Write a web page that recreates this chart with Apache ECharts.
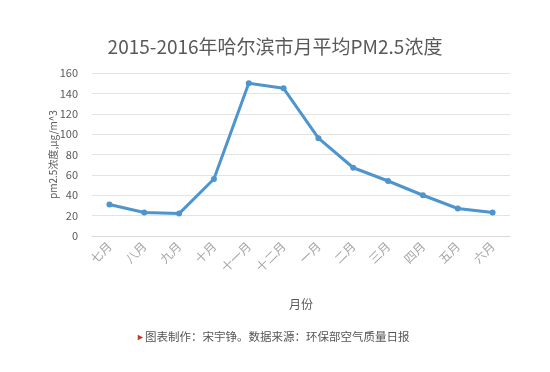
<!DOCTYPE html>
<html><head><meta charset="utf-8">
<script src="https://cdn.jsdelivr.net/npm/echarts@6/dist/echarts.min.js"></script>
<style>html,body{margin:0;padding:0;background:#fff;}#c{width:550px;height:372px;}</style>
</head><body><div id="c"></div>
<script>
var months = ['七月','八月','九月','十月','十一月','十二月','一月','二月','三月','四月','五月','六月'];
var pm25 = [31, 23, 22, 56, 150, 145, 96, 67, 54, 40, 27, 23];
var yTicks = [0, 20, 40, 60, 80, 100, 120, 140, 160];
var titleText = '2015-2016年哈尔滨市月平均PM2.5浓度';
var yName = 'pm2.5浓度,μg/m^3';
var xName = '月份';
var footer = '图表制作：宋宇铮。数据来源：环保部空气质量日报';

var chart = echarts.init(document.getElementById('c'));
var font = '"Noto Sans CJK SC", "Noto Sans", sans-serif';
chart.setOption({
  animation: false,
  backgroundColor: '#fff',
  title: {
    text: titleText, left: 'center', top: 32,
    textStyle: {fontSize: 19, fontWeight: 'normal', color: '#595959', fontFamily: font}
  },
  grid: {left: 92, right: 40, top: 73, bottom: 136},
  xAxis: {
    type: 'category', data: months, boundaryGap: true,
    name: xName, nameLocation: 'middle', nameGap: 62,
    nameTextStyle: {fontSize: 12, color: '#595959', fontFamily: font},
    axisLine: {show: true, lineStyle: {color: '#d9d9d9'}},
    axisTick: {show: false},
    axisLabel: {rotate: 45, fontSize: 12, color: '#a6a6a6', margin: 8, fontFamily: font, interval: 0}
  },
  yAxis: {
    type: 'value', min: yTicks[0], max: yTicks[yTicks.length-1], interval: 20,
    name: yName, nameLocation: 'middle', nameGap: 34, nameRotate: 90, nameMoveOverlap: false,
    nameTextStyle: {fontSize: 10, color: '#595959', fontFamily: font},
    axisLine: {show: false}, axisTick: {show: false},
    axisLabel: {fontSize: 11, color: '#595959', margin: 14, fontFamily: font},
    splitLine: {lineStyle: {color: '#e3e3e3'}}
  },
  graphic: [{
    type: 'text', left: 136, top: 331,
    style: {
      rich: {
        a: {fill: '#c0392b', fontSize: 9, fontFamily: font},
        b: {fill: '#555', fontSize: 11.5, fontFamily: font}
      },
      text: '{a|►}{b|' + footer + '}'
    }
  }],
  series: [{
    type: 'line', data: pm25,
    lineStyle: {color: '#4f95cd', width: 3},
    itemStyle: {color: '#4f95cd'},
    symbol: 'circle', symbolSize: 6
  }]
});
</script></body></html>
